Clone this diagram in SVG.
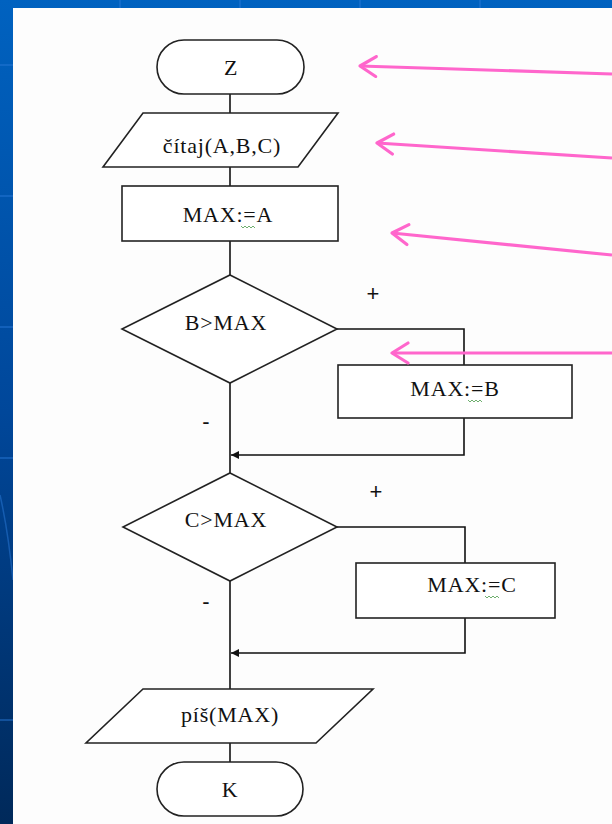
<svg xmlns="http://www.w3.org/2000/svg" width="612" height="824" viewBox="0 0 612 824">
<defs>
<linearGradient id="bg" x1="0" y1="0" x2="0" y2="1">
<stop offset="0" stop-color="#0062C0"/>
<stop offset="0.5" stop-color="#00479A"/>
<stop offset="1" stop-color="#00295A"/>
</linearGradient>
<marker id="ah" viewBox="0 0 10 10" refX="10" refY="5" markerWidth="10" markerHeight="8" markerUnits="userSpaceOnUse" orient="auto">
<path d="M0,0 L10,5 L0,10 z" fill="#111"/>
</marker>
<marker id="pa" viewBox="0 0 22 24" refX="19" refY="12" markerWidth="22" markerHeight="24" markerUnits="userSpaceOnUse" orient="auto">
<path d="M3,2 L19,12 L3,22" fill="none" stroke="#FF66CC" stroke-width="3.2" stroke-linecap="round" stroke-linejoin="round"/>
</marker>
</defs>
<style>
.s{fill:#fff;stroke:#222;stroke-width:1.6}
.c{fill:none;stroke:#111;stroke-width:1.6}
.t{font-family:"Liberation Serif","Times New Roman",serif;font-size:22px;letter-spacing:0.8px;fill:#111;text-anchor:middle}
.l{font-family:"Liberation Sans",Arial,sans-serif;font-size:22px;fill:#111;text-anchor:middle}
.p{fill:none;stroke:#FF66CC;stroke-width:3.2}
.w{fill:none;stroke:#4a9a4a;stroke-width:0.8}
.g{stroke:#2a7ad8;stroke-width:1.5;opacity:0.6}
</style>
<rect x="0" y="0" width="612" height="824" fill="url(#bg)"/>
<g id="bgdeco">
<line class="g" x1="0" y1="65" x2="13" y2="65"/>
<line class="g" x1="0" y1="196" x2="13" y2="196"/>
<line class="g" x1="0" y1="327" x2="13" y2="327"/>
<line class="g" x1="0" y1="458" x2="13" y2="458"/>
<line class="g" x1="0" y1="720" x2="13" y2="720"/>
<line class="g" x1="120" y1="0" x2="120" y2="8"/>
<line class="g" x1="240" y1="0" x2="240" y2="8"/>
<line class="g" x1="360" y1="0" x2="360" y2="8"/>
<line class="g" x1="480" y1="0" x2="480" y2="8"/>
<path d="M0,495 Q8,530 13,580" fill="none" stroke="#2a7ad8" stroke-width="1.5" opacity="0.5"/>
</g>
<rect x="13" y="8" width="599" height="816" fill="#fdfdfd"/>

<g id="connectors">
<line class="c" x1="230" y1="94" x2="230" y2="113"/>
<line class="c" x1="230" y1="167" x2="230" y2="186"/>
<line class="c" x1="230" y1="241" x2="230" y2="275"/>
<line class="c" x1="230" y1="383" x2="230" y2="473"/>
<polyline class="c" points="337,329 464,329 464,365"/>
<polyline class="c" points="464,418 464,455 231,455" marker-end="url(#ah)"/>
<line class="c" x1="230" y1="581" x2="230" y2="689"/>
<polyline class="c" points="337,527 465,527 465,563"/>
<polyline class="c" points="465,618 465,653 231,653" marker-end="url(#ah)"/>
<line class="c" x1="230" y1="743" x2="230" y2="762"/>
<text class="l" x="373" y="301">+</text>
<text class="l" x="206" y="429">-</text>
<text class="l" x="376" y="499">+</text>
<text class="l" x="206" y="609">-</text>
</g>

<g id="start">
<rect class="s" x="157" y="40" width="147" height="54" rx="27" ry="27"/>
<text class="t" x="231" y="75">Z</text>
</g>
<g id="read">
<polygon class="s" points="143,113 338,113 298,167 103,167"/>
<text class="t" x="222" y="153">čítaj(A,B,C)</text>
</g>
<g id="assignA">
<rect class="s" x="122" y="186" width="216" height="55"/>
<text class="t" x="228" y="222">MAX:=A</text>
<path class="w" d="M241,226 l2,2 l2,-2 l2,2 l2,-2 l2,2 l2,-2 l2,2"/>
</g>
<g id="condB">
<polygon class="s" points="230,275 337,329 230,383 122,329"/>
<text class="t" x="226" y="330">B&gt;MAX</text>
</g>
<g id="assignB">
<rect class="s" x="338" y="365" width="234" height="53"/>
<text class="t" x="455" y="396">MAX:=B</text>
<path class="w" d="M468,400 l2,2 l2,-2 l2,2 l2,-2 l2,2 l2,-2 l2,2"/>
</g>
<g id="condC">
<polygon class="s" points="230,473 337,527 230,581 123,527"/>
<text class="t" x="226" y="527">C&gt;MAX</text>
</g>
<g id="assignC">
<rect class="s" x="356" y="563" width="199" height="55"/>
<text class="t" x="472" y="592">MAX:=C</text>
<path class="w" d="M485,596 l2,2 l2,-2 l2,2 l2,-2 l2,2 l2,-2 l2,2"/>
</g>
<g id="write">
<polygon class="s" points="143,689 373,689 316,743 86,743"/>
<text class="t" x="230" y="722">píš(MAX)</text>
</g>
<g id="end">
<rect class="s" x="157" y="762" width="146" height="54" rx="27" ry="27"/>
<text class="t" x="230" y="797">K</text>
</g>

<g id="pointers">
<line class="p" x1="612" y1="74" x2="360" y2="66" marker-end="url(#pa)"/>
<line class="p" x1="612" y1="158" x2="377" y2="143" marker-end="url(#pa)"/>
<line class="p" x1="612" y1="255" x2="392" y2="233" marker-end="url(#pa)"/>
<line class="p" x1="612" y1="353" x2="392" y2="353" marker-end="url(#pa)"/>
</g>
</svg>
